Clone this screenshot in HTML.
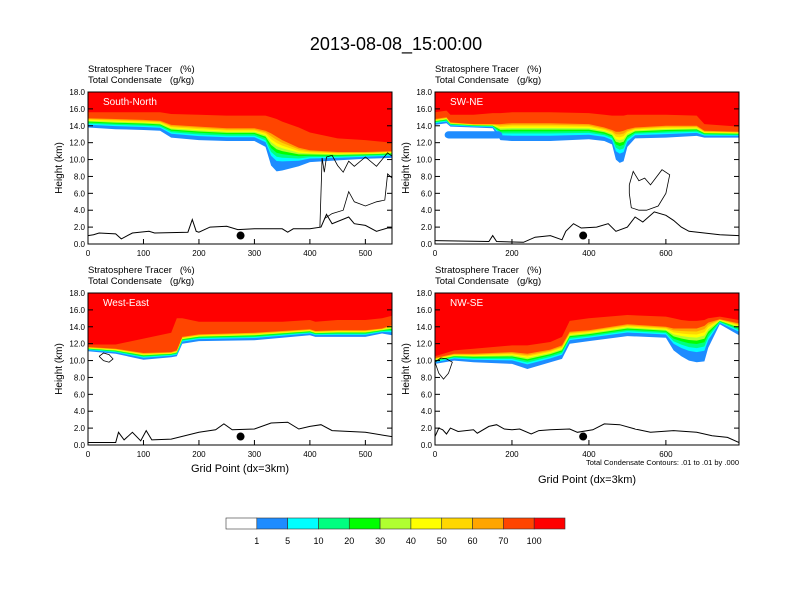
<!DOCTYPE html>
<html><head><meta charset="utf-8"><style>
body{margin:0;background:#fff;}
svg{display:block;font-family:"Liberation Sans",sans-serif;}
text{white-space:pre;}
</style></head><body>
<svg id="chart" width="792" height="612" viewBox="0 0 792 612">
<text x="396" y="50" font-size="18" text-anchor="middle">2013-08-08_15:00:00</text>
<g id="panels"></g>
<g id="colorbar"></g>
</svg>
<script>
const colorLevels = ["1","5","10","20","30","40","50","60","70","100"];
const colors = ["#ffffff","#1e8cff","#00ffff","#00ff80","#00ff00","#b0ff30","#ffff00","#ffd700","#ffa500","#ff4500","#ff0000"];
const yTicks = [0,2,4,6,8,10,12,14,16,18];

const snX = [0,50,100,130,150,200,250,300,320,330,340,350,380,400,450,500,548];
const snBase = [13.8,13.6,13.5,13.4,12.6,12.3,12.2,12.2,11.5,9.3,8.6,8.7,9.2,9.7,9.9,10.1,10.2];
const snTop70 = [14.9,14.8,14.7,14.6,14.1,13.9,13.7,13.7,13.4,13.1,12.7,12.3,11.4,11.1,10.9,10.9,11.0];
const snRed = [15.6,15.6,15.6,15.6,15.4,15.3,15.2,15.2,15.2,15.0,14.8,14.5,13.8,13.2,12.5,12.3,12.0];
const snTerrain = [[0,1],[10,1.1],[20,1.3],[50,1.2],[60,0.6],[80,1.3],[110,1.5],[120,1.3],[180,1.4],[188,2.9],[195,1.5],[200,1.4],[220,2.0],[250,2.1],[270,1.7],[300,1.8],[350,1.8],[360,1.4],[370,1.8],[400,1.8],[420,2.0],[430,3.5],[440,2.4],[470,3.2],[480,2.4],[500,2.2],[520,1.5],[540,1.9],[548,1.9]];
const snContours = [[[418,2.0],[422,10.2],[426,8.5],[430,10.3],[440,10.5],[450,9.3],[460,8.5],[470,9.8],[480,9.2],[500,10.3],[520,9.2],[540,10.8],[548,10.4]],[[426,3.0],[440,3.6],[460,4.0],[470,6.2],[480,5.0],[500,4.5],[520,5.0],[535,5.2],[540,8.3],[548,7.8]]];

const swX = [0,30,40,100,150,170,200,300,400,440,460,470,480,490,500,520,600,680,700,790];
const swBase = [14.1,14.3,13.9,13.8,13.7,12.3,12.2,12.2,12.4,12.2,11.8,10.0,9.6,9.8,11.5,12.5,12.6,12.8,12.6,12.6];
const swTop70 = [14.8,15.0,14.4,14.2,14.2,14.2,14.3,14.3,14.2,13.8,13.5,13.3,13.3,13.4,13.6,13.8,14.0,14.0,13.4,13.3];
const swRed = [15.6,15.8,15.3,15.3,15.5,15.5,15.6,15.6,15.5,15.3,15.2,15.2,15.2,15.2,15.3,15.3,15.3,15.2,14.2,13.9];
const swTerrain = [[0,0.4],[140,0.3],[150,1.0],[160,0.3],[230,0.2],[260,0.8],[300,1.0],[330,0.5],[340,1.5],[360,2.4],[380,1.9],[420,2.0],[450,2.4],[470,1.5],[500,2.0],[520,3.2],[540,2.6],[570,3.8],[600,3.4],[620,2.8],[640,2.0],[660,1.5],[700,1.3],[740,1.1],[790,1.0]];
const swContours = [[[505,7],[515,8.6],[530,7.5],[545,7.8],[560,7.0],[590,8.8],[610,8.2],[600,6],[580,4.5],[550,4],[530,4],[510,4.3],[505,6],[505,7]]];

const weX = [0,50,100,150,160,170,200,300,350,400,410,450,500,530,548];
const weBase = [11.1,10.8,10.1,10.4,10.5,12.0,12.3,12.4,12.7,13.0,12.8,12.8,12.8,13.2,13.0];
const weTop70 = [11.6,11.4,10.9,11.0,11.2,12.8,13.1,13.3,13.5,13.7,13.5,13.6,13.6,13.8,14.2];
const weRed = [11.9,11.9,12.6,13.3,15.0,15.0,14.6,14.6,14.6,14.8,14.6,14.8,14.8,15.0,15.3];
const weTerrain = [[0,0.3],[50,0.3],[55,1.5],[65,0.6],[80,1.5],[95,0.5],[105,1.7],[115,0.6],[150,0.7],[200,1.5],[230,1.8],[245,2.5],[260,1.8],[300,1.9],[330,2.6],[360,2.7],[380,1.9],[400,2.2],[420,2.4],[440,1.7],[500,1.5],[548,1.0]];
const weContours = [[[20,10.5],[28,10.9],[38,10.7],[45,10.2],[38,9.8],[28,10.0],[20,10.5]]];

const nwX = [0,50,100,200,240,300,330,350,400,500,600,620,640,660,680,700,710,740,790];
const nwBase = [9.6,10.0,9.8,9.6,9.0,9.8,10.2,12.0,12.3,12.9,12.7,11.2,10.5,10.0,9.8,9.9,11.5,14.3,13.0];
const nwTop70 = [10.3,10.8,10.8,11.0,10.8,11.3,11.8,13.4,13.6,14.3,14.0,13.8,13.8,13.8,13.8,14.1,14.5,14.9,14.4];
const nwRed = [10.5,11.2,11.4,11.8,11.8,12.2,12.8,14.7,15.0,15.4,15.2,15.0,14.8,14.7,14.7,14.8,15.0,15.2,14.8];
const nwTerrain = [[0,1.0],[10,2.0],[20,1.8],[30,1.3],[40,2.0],[60,1.6],[100,1.8],[110,1.4],[140,2.2],[160,2.4],[180,1.9],[200,1.8],[220,1.9],[250,1.3],[270,1.7],[300,1.8],[350,1.9],[370,1.5],[410,1.8],[440,2.5],[480,2.4],[520,1.9],[560,1.5],[620,1.7],[680,1.5],[720,1.1],[760,0.9],[790,0.3]];
const nwContours = [[[0,9.8],[15,10.3],[30,10.2],[45,9.8],[35,8.5],[22,7.8],[10,8.5],[0,9.8]]];

const panels = [
 {name:"South-North",key:"south-north",px:88,py:92,xmax:548,xt:[0,100,200,300,400,500],xs:snX,base:snBase,top:snTop70,red:snRed,ter:snTerrain,con:snContours,dot:275,xlabel:false},
 {name:"SW-NE",key:"sw-ne",px:435,py:92,xmax:790,xt:[0,200,400,600],xs:swX,base:swBase,top:swTop70,red:swRed,ter:swTerrain,con:swContours,dot:385,xlabel:false,blob:true},
 {name:"West-East",key:"west-east",px:88,py:293,xmax:548,xt:[0,100,200,300,400,500],xs:weX,base:weBase,top:weTop70,red:weRed,ter:weTerrain,con:weContours,dot:275,xlabel:true},
 {name:"NW-SE",key:"nw-se",px:435,py:293,xmax:790,xt:[0,200,400,600],xs:nwX,base:nwBase,top:nwTop70,red:nwRed,ter:nwTerrain,con:nwContours,dot:385,xlabel:true,note:true}
];
const fr = [0,.3,.42,.54,.64,.73,.82,.91,1];
const W=304,H=152,NS="http://www.w3.org/2000/svg";
function mk(tag,attrs,parent){const e=document.createElementNS(NS,tag);for(const k in attrs)e.setAttribute(k,attrs[k]);parent.appendChild(e);return e;}
const root=document.getElementById('panels');
panels.forEach(p=>{
 const sx=v=>p.px+v/p.xmax*W, sy=v=>p.py+H-v/18*H;
 const g=mk('g',{},root);
 
 
 const clipId='clip-'+p.key;
 const cp=mk('clipPath',{id:clipId},g);mk('rect',{x:p.px,y:p.py,width:W,height:H},cp);
 const plot=mk('g',{'clip-path':'url(#'+clipId+')'},g);
 function fillAbove(arr,color){
  let d='M'+sx(p.xs[0])+','+sy(18);
  p.xs.forEach((x,i)=>{d+=' L'+sx(x).toFixed(1)+','+sy(arr[i]).toFixed(1);});
  d+=' L'+sx(p.xs[p.xs.length-1])+','+sy(18)+'Z';
  const e=mk('path',{d:d,fill:color},plot);
  
  
 }
 for(let k=0;k<8;k++){
  const arr=p.base.map((b,i)=>b+(p.top[i]-b)*fr[k]);
  fillAbove(arr,colors[k+1]);
 }
 fillAbove(p.top,colors[9]);
 fillAbove(p.red,colors[10]);
 if(p.blob){
  const e=mk('rect',{x:sx(25),y:sy(13.35),width:sx(175)-sx(25),height:sy(12.5)-sy(13.35),rx:4,fill:colors[1]},plot);
  
  
 }
 p.con.forEach(c=>{
  const e=mk('polyline',{points:c.map(q=>sx(q[0]).toFixed(1)+','+sy(q[1]).toFixed(1)).join(' '),fill:'none',stroke:'#000','stroke-width':0.8},plot);
  
  
 });
 let tp='';p.ter.forEach((q,i)=>{tp+=(i?' ':'')+sx(q[0]).toFixed(1)+','+sy(q[1]).toFixed(1);});
 const t=mk('polyline',{points:tp,fill:'none',stroke:'#000','stroke-width':1},plot);
 
 
 const dot=mk('circle',{cx:sx(p.dot),cy:sy(1.0),r:4,fill:'#000'},plot);
 
 
 const fr2=mk('rect',{x:p.px,y:p.py,width:W,height:H,fill:'none',stroke:'#000','stroke-width':1},g);
 
 
 yTicks.forEach(v=>{
  mk('line',{x1:p.px,x2:p.px+5,y1:sy(v),y2:sy(v),stroke:'#000'},g);
  mk('line',{x1:p.px+W,x2:p.px+W-5,y1:sy(v),y2:sy(v),stroke:'#000'},g);
  const l=mk('text',{x:p.px-3,y:sy(v)+3,'font-size':8,'text-anchor':'end'},g);l.textContent=v.toFixed(1);
  
  
 });
 p.xt.forEach(v=>{
  mk('line',{x1:sx(v),x2:sx(v),y1:p.py+H,y2:p.py+H-5,stroke:'#000'},g);
  const l=mk('text',{x:sx(v),y:p.py+H+12,'font-size':8,'text-anchor':'middle'},g);l.textContent=v;
  
  
 });
 const yl=mk('text',{x:0,y:0,'font-size':10,'text-anchor':'middle',transform:'translate('+(p.px-26)+','+(p.py+H/2)+') rotate(-90)'},g);yl.textContent='Height (km)';
 
 
 const s1=mk('text',{x:p.px,y:p.py-20,'font-size':9.5},g);s1.textContent='Stratosphere Tracer   (%)';
 
 
 const s2=mk('text',{x:p.px,y:p.py-9,'font-size':9.5},g);s2.textContent='Total Condensate   (g/kg)';
 
 
 const nm=mk('text',{x:p.px+15,y:p.py+13,'font-size':10,fill:'#fff'},g);nm.textContent=p.name;
 
 
 if(p.xlabel){
  const xl=mk('text',{x:p.px+W/2,y:p.py+H+(p.note?38:27),'font-size':11,'text-anchor':'middle'},g);xl.textContent='Grid Point (dx=3km)';
  
  
 }
 if(p.note){
  const n=mk('text',{x:p.px+W,y:p.py+H+20,'font-size':7.5,'text-anchor':'end'},g);n.textContent='Total Condensate Contours: .01 to .01 by .000';
  
  
 }
});
const cb=document.getElementById('colorbar');
const cbx=226,cbw=339/11;
colors.forEach((c,i)=>{
 const r=mk('rect',{x:cbx+i*cbw,y:518,width:cbw,height:11,fill:c,stroke:'#333','stroke-width':0.6},cb);
 
 
});
colorLevels.forEach((l,i)=>{
 const t=mk('text',{x:cbx+(i+1)*cbw,y:544,'font-size':9,'text-anchor':'middle'},cb);t.textContent=l;
 
 
});
</script>
</body></html>
